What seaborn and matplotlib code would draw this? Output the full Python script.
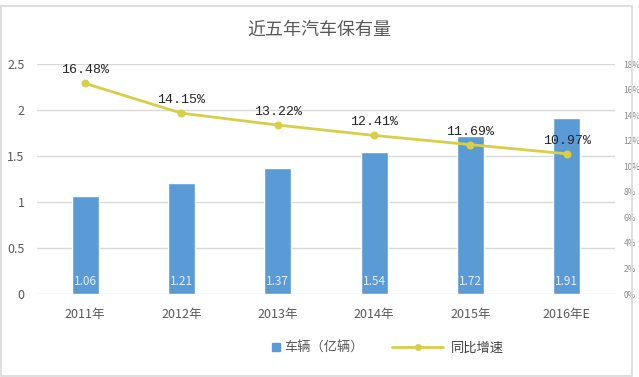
import matplotlib
matplotlib.use("Agg")
import matplotlib.pyplot as plt
import seaborn as sns
import pandas as pd
from matplotlib.patches import Rectangle
from matplotlib.lines import Line2D

years = ["2011年", "2012年", "2013年", "2014年", "2015年", "2016年E"]
vehicles = [1.06, 1.21, 1.37, 1.54, 1.72, 1.91]
growth = [16.48, 14.15, 13.22, 12.41, 11.69, 10.97]
growth_labels = ["16.48%", "14.15%", "13.22%", "12.41%", "11.69%", "10.97%"]
left_ticks = [0, 0.5, 1, 1.5, 2, 2.5]
left_tick_labels = ["0", "0.5", "1", "1.5", "2", "2.5"]
right_ticks = [0, 2, 4, 6, 8, 10, 12, 14, 16, 18]
right_tick_labels = ["0%", "2%", "4%", "6%", "8%", "10%", "12%", "14%", "16%", "18%"]
title = "近五年汽车保有量"
bar_name = "车辆（亿辆）"
line_name = "同比增速"

sns.set_theme(style="white")
plt.rcParams['font.family'] = ['Noto Sans CJK SC', 'DejaVu Sans']

bar_color = "#5B9BD5"
line_color = "#D8CF48"
text_gray = "#595959"

df = pd.DataFrame({"year": years, "vehicles": vehicles, "growth": growth})

fig = plt.figure(figsize=(6.39, 3.77), dpi=100)
ax = fig.add_axes([37/639, 1 - 294/377, (615-37)/639, (294-64)/377])

sns.barplot(data=df, x="year", y="vehicles", color=bar_color, width=0.28,
            saturation=1, ax=ax, zorder=2)
ax.set_ylim(0, 2.5)
ax.set_yticks(left_ticks)
ax.set_yticklabels(left_tick_labels, color=text_gray, fontsize=9)
ax.set_xlabel("")
ax.set_ylabel("")
ax.tick_params(axis='x', colors=text_gray, labelsize=9, length=0, pad=10)
ax.tick_params(axis='y', length=0, pad=9)
ax.grid(axis='y', color="#D9D9D9", linewidth=1, zorder=0)
ax.set_axisbelow(True)
for s in ax.spines.values():
    s.set_visible(False)
ax.set_xlim(-0.5, len(years) - 0.5)

for i, v in enumerate(vehicles):
    ax.text(i, 0.06, f"{v:.2f}", ha='center', va='bottom', color="#E2EEF9", fontsize=8.5, zorder=4)

ax2 = ax.twinx()
sns.lineplot(data=df, x="year", y="growth", color=line_color, marker='o',
             markersize=5, linewidth=2, ax=ax2, sort=False, zorder=5,
             markeredgecolor=line_color)
ax2.set_ylim(0, 18)
ax2.set_yticks(right_ticks)
ax2.set_yticklabels(right_tick_labels, color="#8C8C8C", fontsize=6)
ax2.tick_params(axis='y', length=0, pad=6)
ax2.set_ylabel("")
ax2.set_xlabel("")
for s in ax2.spines.values():
    s.set_visible(False)
ax2.set_xlim(-0.5, len(years) - 0.5)

for i, (g, lab) in enumerate(zip(growth, growth_labels)):
    ax2.text(i, g + 0.55, lab, ha='center', va='bottom', color="#262626", fontsize=9.5,
             family=['Liberation Mono', 'DejaVu Sans Mono'], zorder=6)

fig.text(0.5, 1 - 30/377, title, ha='center', va='center', fontsize=13, color=text_gray)

h_bar = Line2D([0], [0], linestyle='none', marker='s', markersize=6,
               markerfacecolor=bar_color, markeredgecolor=bar_color)
h_line = Line2D([0], [0], color=line_color, linewidth=2, marker='o', markersize=4)
leg1 = fig.legend([h_bar], [bar_name], loc='center', bbox_to_anchor=(318/639, 1 - 348/377),
                  frameon=False, fontsize=9.5, labelcolor=text_gray, handlelength=0.6,
                  handletextpad=0.3)
leg2 = fig.legend([h_line], [line_name], loc='center', bbox_to_anchor=(448/639, 1 - 348/377),
                  frameon=False, fontsize=9.5, labelcolor="#404040", handlelength=3.8,
                  handletextpad=0.6)

fig.patches.append(Rectangle((1/639, 1/377), 631/639, 370/377, transform=fig.transFigure,
                             fill=False, edgecolor="#D9D9D9", linewidth=1.2))

fig.savefig("out.png", dpi=100, facecolor="white")
